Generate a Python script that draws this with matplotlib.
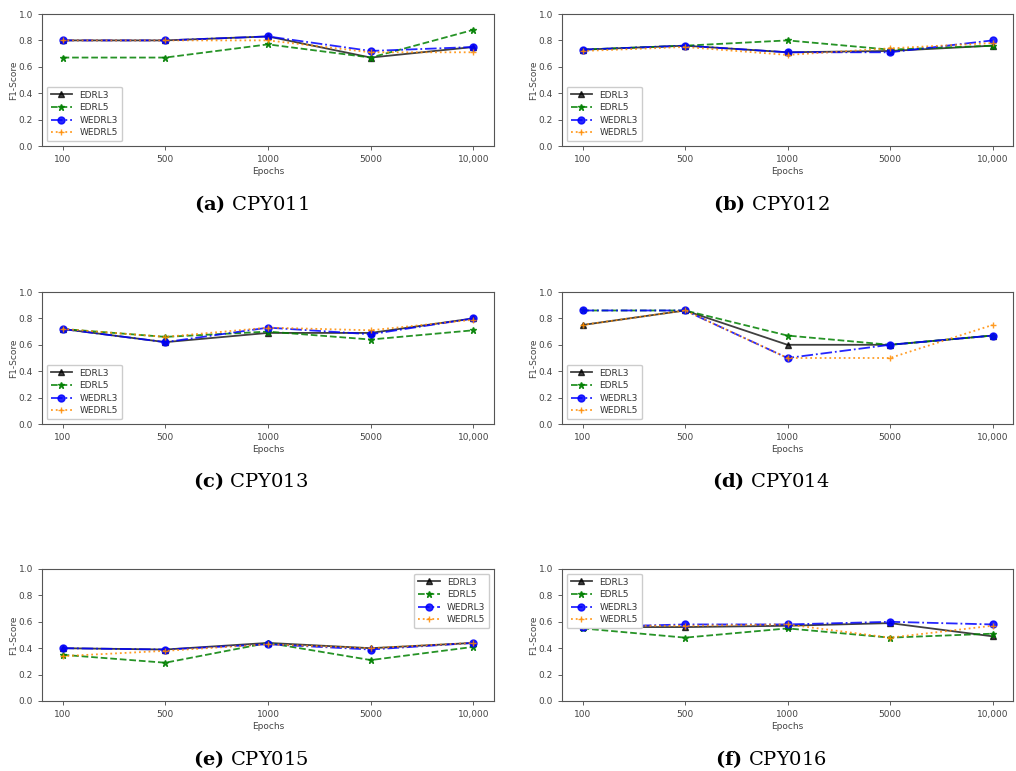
import matplotlib
matplotlib.use("Agg")
import matplotlib.pyplot as plt

plt.rcParams["mathtext.fontset"] = "dejavuserif"

epochs = ["100", "500", "1000", "5000", "10,000"]
series_names = ["EDRL3", "EDRL5", "WEDRL3", "WEDRL5"]

cpy011_edrl3 = [0.80, 0.80, 0.83, 0.67, 0.75]
cpy011_edrl5 = [0.67, 0.67, 0.77, 0.67, 0.88]
cpy011_wedrl3 = [0.80, 0.80, 0.83, 0.72, 0.75]
cpy011_wedrl5 = [0.80, 0.80, 0.80, 0.71, 0.71]

cpy012_edrl3 = [0.73, 0.76, 0.71, 0.72, 0.76]
cpy012_edrl5 = [0.73, 0.76, 0.80, 0.73, 0.76]
cpy012_wedrl3 = [0.73, 0.76, 0.71, 0.71, 0.80]
cpy012_wedrl5 = [0.72, 0.75, 0.69, 0.74, 0.78]

cpy013_edrl3 = [0.72, 0.62, 0.69, 0.69, 0.80]
cpy013_edrl5 = [0.72, 0.66, 0.70, 0.64, 0.71]
cpy013_wedrl3 = [0.72, 0.62, 0.73, 0.68, 0.80]
cpy013_wedrl5 = [0.72, 0.66, 0.73, 0.71, 0.79]

cpy014_edrl3 = [0.75, 0.86, 0.60, 0.60, 0.67]
cpy014_edrl5 = [0.86, 0.86, 0.67, 0.60, 0.67]
cpy014_wedrl3 = [0.86, 0.86, 0.50, 0.60, 0.67]
cpy014_wedrl5 = [0.75, 0.86, 0.50, 0.50, 0.75]

cpy015_edrl3 = [0.40, 0.39, 0.44, 0.40, 0.44]
cpy015_edrl5 = [0.35, 0.29, 0.44, 0.31, 0.41]
cpy015_wedrl3 = [0.40, 0.39, 0.43, 0.39, 0.44]
cpy015_wedrl5 = [0.34, 0.38, 0.43, 0.40, 0.44]

cpy016_edrl3 = [0.56, 0.56, 0.57, 0.59, 0.49]
cpy016_edrl5 = [0.55, 0.48, 0.55, 0.48, 0.51]
cpy016_wedrl3 = [0.56, 0.58, 0.58, 0.60, 0.58]
cpy016_wedrl5 = [0.57, 0.57, 0.58, 0.48, 0.57]

panels = [
    ("a", "CPY011", [cpy011_edrl3, cpy011_edrl5, cpy011_wedrl3, cpy011_wedrl5], "lower left"),
    ("b", "CPY012", [cpy012_edrl3, cpy012_edrl5, cpy012_wedrl3, cpy012_wedrl5], "lower left"),
    ("c", "CPY013", [cpy013_edrl3, cpy013_edrl5, cpy013_wedrl3, cpy013_wedrl5], "lower left"),
    ("d", "CPY014", [cpy014_edrl3, cpy014_edrl5, cpy014_wedrl3, cpy014_wedrl5], "lower left"),
    ("e", "CPY015", [cpy015_edrl3, cpy015_edrl5, cpy015_wedrl3, cpy015_wedrl5], "upper right"),
    ("f", "CPY016", [cpy016_edrl3, cpy016_edrl5, cpy016_wedrl3, cpy016_wedrl5], "upper left"),
]

styles = [
    dict(color="black", linestyle="-", marker="^", alpha=0.75),
    dict(color="green", linestyle="--", marker="*", alpha=0.85),
    dict(color="blue", linestyle="-.", marker="o", alpha=0.85),
    dict(color="darkorange", linestyle=":", marker="+", alpha=0.85),
]

W, H = 1016, 771
fig = plt.figure(figsize=(W / 100, H / 100), dpi=100)

col_x = [42, 562]
col_w = [452, 451]
row_top = [14, 292, 569]
ax_h = 132
caption_y = [204, 481, 759]
caption_x = [251, 771]

x = list(range(len(epochs)))
for i, (letter, name, values, loc) in enumerate(panels):
    r, c = divmod(i, 2)
    ax = fig.add_axes([col_x[c] / W, 1 - (row_top[r] + ax_h) / H, col_w[c] / W, ax_h / H])
    for label, y, st in zip(series_names, values, styles):
        ax.plot(x, y, label=label, linewidth=1.3, markersize=5, **st)
    ax.set_ylim(0, 1.0)
    ax.set_yticks([0, 0.2, 0.4, 0.6, 0.8, 1.0])
    ax.set_xticks(x)
    ax.set_xticklabels(epochs)
    ax.tick_params(labelsize=6.5, colors="#444444", length=3, width=0.6)
    for s in ax.spines.values():
        s.set_color("#555555")
        s.set_linewidth(0.8)
    ax.set_xlabel("Epochs", fontsize=6.5, color="#444444", labelpad=2)
    ax.set_ylabel("F1-Score", fontsize=6.5, color="#444444", labelpad=0.5)
    leg = ax.legend(loc=loc, fontsize=6.5, handlelength=2.4, borderpad=0.45,
                    labelspacing=0.4, framealpha=1.0, numpoints=1)
    for t in leg.get_texts():
        t.set_color("#333333")
    fig.text(caption_x[c] / W, 1 - caption_y[r] / H,
             f"$\\mathbf{{({letter})}}$ {name}",
             ha="center", va="center", fontsize=14, family="DejaVu Serif")

fig.savefig("out.png", dpi=100)
